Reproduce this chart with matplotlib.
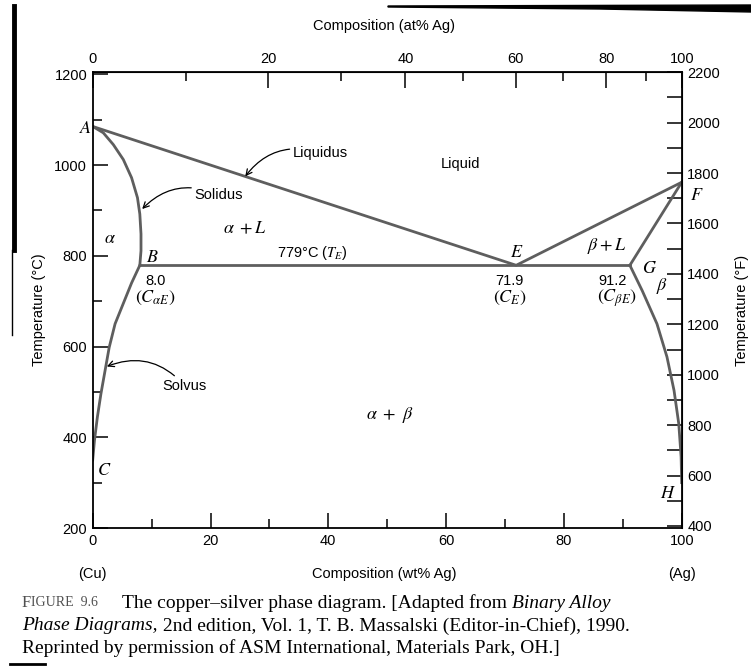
import numpy as np
import matplotlib
matplotlib.use("Agg")
import matplotlib.pyplot as plt
from matplotlib.lines import Line2D
from matplotlib.patches import Polygon
from matplotlib.ticker import FixedLocator, NullFormatter

plt.rcParams['font.family'] = ['Liberation Sans', 'DejaVu Sans']
plt.rcParams['mathtext.fontset'] = 'stix'

# phase boundaries (wt% Ag, deg C)
liquidus_wt = [0.0, 71.9, 100.0]
liquidus_t = [1085, 779, 962]
solidus_a_wt = [0.0, 1.8, 3.5, 5.2, 6.6, 7.6, 8.0, 8.2, 8.2, 8.0]
solidus_a_t = [1085, 1071, 1045, 1012, 972, 928, 892, 848, 811, 779]
solvus_a_wt = [8.0, 6.6, 5.2, 3.8, 2.8, 2.1, 1.4, 0.8, 0.3, 0.0]
solvus_a_t = [779, 740, 695, 650, 598, 547, 496, 445, 393, 350]
eutectic_wt = [8.0, 91.2]
eutectic_t = [779, 779]
solidus_b_wt = [100.0, 91.2]
solidus_b_t = [962, 779]
solvus_b_wt = [91.2, 93.3, 95.8, 97.5, 98.7, 99.5, 99.9, 100.0]
solvus_b_t = [779, 723, 650, 577, 503, 430, 357, 300]

# axis ticks
wt_major = [0, 20, 40, 60, 80, 100]
wt_minor = [10, 30, 50, 70, 90]
at_major = [0, 20, 40, 60, 80, 100]
at_minor = [10, 30, 50, 70, 90]
c_major = [200, 400, 600, 800, 1000, 1200]
c_minor = [300, 500, 700, 900, 1100]
f_major = [400, 600, 800, 1000, 1200, 1400, 1600, 1800, 2000, 2200]
f_minor = [500, 700, 900, 1100, 1300, 1500, 1700, 1900, 2100]

# caption pieces, (text, italic)
cap_line1 = [('The copper–silver phase diagram. [Adapted from ', 0), ('Binary Alloy', 1)]
cap_line2 = [('Phase Diagrams,', 1), (' 2nd edition, Vol. 1, T. B. Massalski (Editor-in-Chief), 1990.', 0)]
cap_line3 = [('Reprinted by permission of ASM International, Materials Park, OH.]', 0)]

M_AG = 107.87
M_CU = 63.55


def wt2at(w):
  w = np.asarray(w, dtype=float)
  with np.errstate(divide='ignore', invalid='ignore'):
    return 100.0*(w/M_AG)/(w/M_AG + (100.0-w)/M_CU)


def at2wt(a):
  a = np.asarray(a, dtype=float)
  with np.errstate(divide='ignore', invalid='ignore'):
    return 100.0*a*M_AG/(a*M_AG + (100.0-a)*M_CU)


def c2f(c):
  return np.asarray(c, dtype=float)*1.8 + 32.0


def f2c(f):
  return (np.asarray(f, dtype=float) - 32.0)/1.8


W, H = 751, 666
fig = plt.figure(figsize=(W/100, H/100), dpi=100)
fig.patch.set_facecolor('white')

ax = fig.add_axes([92.7/W, 1-528/H, 589/W, 456/H])
ax.set_xlim(0, 100)
ax.set_ylim(200, 1205)

line_col = '#5e5e5e'
lw = 2.0
for xs, ys in [(liquidus_wt, liquidus_t), (solidus_a_wt, solidus_a_t),
               (solvus_a_wt, solvus_a_t), (eutectic_wt, eutectic_t),
               (solidus_b_wt, solidus_b_t), (solvus_b_wt, solvus_b_t)]:
  ax.plot(xs, ys, color=line_col, lw=lw, solid_joinstyle='round')

for s in ax.spines.values():
  s.set_linewidth(1.3)

ax.set_xticks(wt_major)
ax.xaxis.set_minor_locator(FixedLocator(wt_minor))
ax.set_yticks(c_major)
ax.yaxis.set_minor_locator(FixedLocator(c_minor))
ax.tick_params(which='major', direction='in', length=10.5, width=1.1, labelsize=10.5, pad=4)
ax.tick_params(which='minor', direction='in', length=6.5, width=1.1)

top = ax.secondary_xaxis('top', functions=(wt2at, at2wt))
top.set_xticks(at_major)
top.xaxis.set_minor_locator(FixedLocator(at_minor))
top.xaxis.set_minor_formatter(NullFormatter())
top.tick_params(which='major', direction='in', length=11.5, width=1.1, labelsize=10.5, pad=4)
top.tick_params(which='minor', direction='in', length=6.5, width=1.1)

right = ax.secondary_yaxis('right', functions=(c2f, f2c))
right.set_yticks(f_major)
right.yaxis.set_minor_locator(FixedLocator(f_minor))
right.yaxis.set_minor_formatter(NullFormatter())
right.tick_params(which='major', direction='in', length=10.5, width=1.1, labelsize=10.5, pad=4)
right.tick_params(which='minor', direction='in', length=10.5, width=1.1)

# axis titles
fig.text(39/W, 1-310/H, 'Temperature (°C)', rotation=90, ha='center', va='center', fontsize=10.5)
fig.text(742/W, 1-310/H, 'Temperature (°F)', rotation=90, ha='center', va='center', fontsize=10.5)
fig.text(384/W, 1-26/H, 'Composition (at% Ag)', ha='center', va='center', fontsize=10.5)
fig.text(384/W, 1-574/H, 'Composition (wt% Ag)', ha='center', va='center', fontsize=10.5)
fig.text(92.5/W, 1-574/H, '(Cu)', ha='center', va='center', fontsize=10.5)
fig.text(682/W, 1-574/H, '(Ag)', ha='center', va='center', fontsize=10.5)

# region / point labels
it = dict(ha='center', va='center', fontsize=13)
sans = dict(ha='center', va='center', fontsize=10.5)
ax.text(-1.3, 1081, '$A$', **it)
ax.text(3.0, 837, r'$\alpha$', **it)
ax.text(25.9, 859, r'$\alpha\ +L$', **it)
ax.text(37.3, 807, r'779°C ($T_E$)', **sans)
ax.text(10.1, 796, '$B$', **it)
ax.text(10.6, 745, '8.0', **sans)
ax.text(10.6, 706, r'$(C_{\alpha E})$', **it)
ax.text(62.4, 1002, 'Liquid', **sans)
ax.text(72.0, 807, '$E$', **it)
ax.text(70.8, 745, '71.9', **sans)
ax.text(70.8, 706, r'$(C_E)$', **it)
ax.text(87.3, 822, r'$\beta + L$', **it)
ax.text(88.3, 745, '91.2', **sans)
ax.text(89.0, 706, r'$(C_{\beta E})$', **it)
ax.text(94.6, 771, '$G$', **it)
ax.text(96.7, 734, r'$\beta$', **it)
ax.text(102.6, 932, '$F$', clip_on=False, **it)
ax.text(97.7, 277, '$H$', **it)
ax.text(1.9, 327, '$C$', **it)
ax.text(50.5, 448, r'$\alpha\ +\ \beta$', **it)

arr = dict(arrowstyle='->', color='black', lw=0.9, shrinkA=0, shrinkB=0)
ax.annotate('Liquidus', xy=(25.9, 975), xytext=(33.9, 1027), ha='left', va='center',
            fontsize=10.5, arrowprops=dict(connectionstyle='arc3,rad=0.35', **arr))
ax.annotate('Solidus', xy=(8.4, 903), xytext=(17.2, 934), ha='left', va='center',
            fontsize=10.5, arrowprops=dict(connectionstyle='arc3,rad=0.35', **arr))
ax.annotate('Solvus', xy=(2.4, 556), xytext=(11.8, 514), ha='left', va='center',
            fontsize=10.5, arrowprops=dict(connectionstyle='arc3,rad=0.35', **arr))

# caption
serif = ['Liberation Serif', 'DejaVu Serif']
cap_size = 14
renderer = fig.canvas.get_renderer()


def cap_line(pieces, x0, y):
  x = x0
  for s, ital in pieces:
    t = fig.text(x/W, 1-y/H, s, family=serif, fontsize=cap_size, va='center', ha='left',
                 fontstyle='italic' if ital else 'normal')
    x += t.get_window_extent(renderer).width


fig.text(22/W, 1-603/H, 'F', color='#505050', family=serif, fontsize=12, va='center', ha='left')
fig.text(30.5/W, 1-603/H, 'IGURE  9.6', color='#505050', family=serif, fontsize=10, va='center', ha='left')
cap_line(cap_line1, 122, 603)
cap_line(cap_line2, 22, 626)
cap_line(cap_line3, 22, 648)

# scan edges
fig.add_artist(Line2D([14/W, 14/W], [1-6/H, 1-250/H], color='black', lw=3.5))
fig.add_artist(Line2D([12/W, 12/W], [1-250/H, 1-335/H], color='black', lw=1.0))
fig.add_artist(Polygon([[388/W, 1-6/H], [751/W, 1-5/H], [751/W, 1-12/H], [600/W, 1-9/H], [388/W, 1-7/H]],
                       closed=True, color='black', transform=fig.transFigure))
fig.add_artist(Line2D([10/W, 45/W], [1-664/H, 1-664/H], color='black', lw=2))

fig.savefig('out.png', dpi=100)
